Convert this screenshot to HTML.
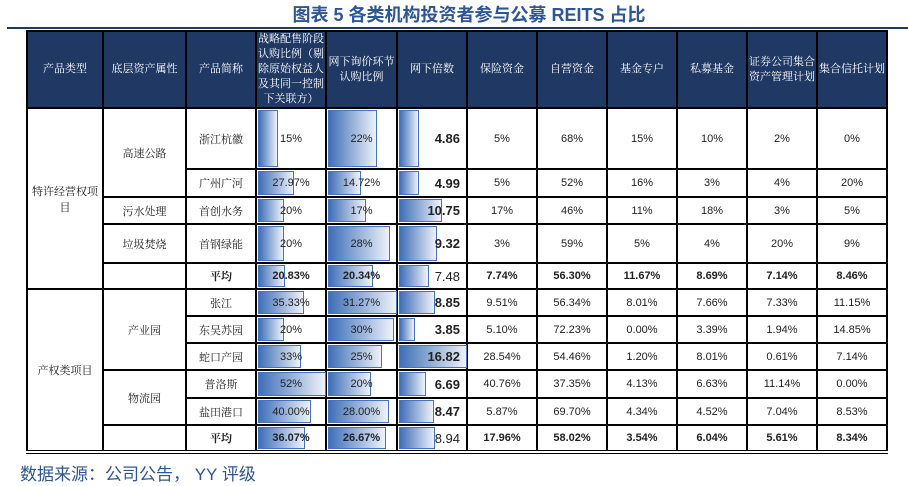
<!DOCTYPE html>
<html><head><meta charset="utf-8"><style>
body{margin:0;width:908px;height:486px;background:#fff;position:relative;overflow:hidden;font-family:"Liberation Sans","Noto Sans CJK SC",sans-serif}
.title{position:absolute;left:0;width:908px;top:1px;text-align:center;padding-left:30px;box-sizing:border-box;font-weight:bold;font-size:18px;color:#2e5597}
.rule{position:absolute;left:7px;right:0;top:27px;height:2px;background:#1f3864}
table{position:absolute;left:26px;top:30px;border-collapse:collapse;table-layout:fixed;font-size:11px}
td{border:2px solid #000;text-align:center;padding:0;position:relative;color:#222;font-family:"Liberation Sans","Noto Serif CJK SC",serif}
tr.h td{background:#1f3864;color:#fff;border-color:#000;line-height:15px;font-size:11px}
.b{position:absolute;left:1px;top:1px;bottom:1px;background:linear-gradient(90deg,#3f6fb8,#eef2fa);border:1px solid #4472c4;box-sizing:border-box}
.t{position:relative}
.r{text-align:right;padding-right:6px;font-weight:bold;font-size:13px}
.bold{font-weight:bold}
.src{position:absolute;left:20px;top:460px;font-size:17px;color:#2e5597;font-family:"Liberation Sans","Noto Sans CJK SC",sans-serif}
</style></head><body>
<div class="title">图表 5 各类机构投资者参与公募 REITS 占比</div>
<div class="rule"></div>
<table>
<colgroup><col style="width:76px"><col style="width:83px"><col style="width:70px"><col style="width:70px"><col style="width:71px"><col style="width:70px"><col style="width:70px"><col style="width:70px"><col style="width:70px"><col style="width:70px"><col style="width:70px"><col style="width:70px"></colgroup>
<tr class="h" style="height:71px"><td>产品类型</td><td>底层资产属性</td><td>产品简称</td><td>战略配售阶段认购比例（剔除原始权益人及其同一控制下关联方）</td><td>网下询价环节认购比例</td><td>网下倍数</td><td>保险资金</td><td>自营资金</td><td>基金专户</td><td>私募基金</td><td>证券公司集合资产管理计划</td><td>集合信托计划</td></tr>
<tr style="height:61px"><td rowspan="5">特许经营权项目</td><td rowspan="2">高速公路</td><td>浙江杭徽</td><td><div class="b" style="width:20px"></div><span class="t">15%</span></td><td><div class="b" style="width:49px"></div><span class="t">22%</span></td><td class="r"><div class="b" style="width:20px"></div><span class="t">4.86</span></td><td>5%</td><td>68%</td><td>15%</td><td>10%</td><td>2%</td><td>0%</td></tr>
<tr style="height:28px"><td>广州广河</td><td><div class="b" style="width:36px"></div><span class="t">27.97%</span></td><td><div class="b" style="width:33px"></div><span class="t">14.72%</span></td><td class="r"><div class="b" style="width:20px"></div><span class="t">4.99</span></td><td>5%</td><td>52%</td><td>16%</td><td>3%</td><td>4%</td><td>20%</td></tr>
<tr style="height:27px"><td>污水处理</td><td>首创水务</td><td><div class="b" style="width:26px"></div><span class="t">20%</span></td><td><div class="b" style="width:38px"></div><span class="t">17%</span></td><td class="r"><div class="b" style="width:43px"></div><span class="t">10.75</span></td><td>17%</td><td>46%</td><td>11%</td><td>18%</td><td>3%</td><td>5%</td></tr>
<tr style="height:39px"><td>垃圾焚烧</td><td>首钢绿能</td><td><div class="b" style="width:26px"></div><span class="t">20%</span></td><td><div class="b" style="width:62px"></div><span class="t">28%</span></td><td class="r"><div class="b" style="width:38px"></div><span class="t">9.32</span></td><td>3%</td><td>59%</td><td>5%</td><td>4%</td><td>20%</td><td>9%</td></tr>
<tr style="height:26px" class="bold"><td></td><td>平均</td><td><div class="b" style="width:27px"></div><span class="t">20.83%</span></td><td><div class="b" style="width:45px"></div><span class="t">20.34%</span></td><td class="r" style="font-weight:normal"><div class="b" style="width:30px"></div><span class="t">7.48</span></td><td>7.74%</td><td>56.30%</td><td>11.67%</td><td>8.69%</td><td>7.14%</td><td>8.46%</td></tr>
<tr style="height:27px"><td rowspan="6">产权类项目</td><td rowspan="3">产业园</td><td>张江</td><td><div class="b" style="width:46px"></div><span class="t">35.33%</span></td><td><div class="b" style="width:69px"></div><span class="t">31.27%</span></td><td class="r"><div class="b" style="width:36px"></div><span class="t">8.85</span></td><td>9.51%</td><td>56.34%</td><td>8.01%</td><td>7.66%</td><td>7.33%</td><td>11.15%</td></tr>
<tr style="height:27px"><td>东吴苏园</td><td><div class="b" style="width:26px"></div><span class="t">20%</span></td><td><div class="b" style="width:66px"></div><span class="t">30%</span></td><td class="r"><div class="b" style="width:16px"></div><span class="t">3.85</span></td><td>5.10%</td><td>72.23%</td><td>0.00%</td><td>3.39%</td><td>1.94%</td><td>14.85%</td></tr>
<tr style="height:27px"><td>蛇口产园</td><td><div class="b" style="width:43px"></div><span class="t">33%</span></td><td><div class="b" style="width:54px"></div><span class="t">25%</span></td><td class="r"><div class="b" style="width:68px"></div><span class="t">16.82</span></td><td>28.54%</td><td>54.46%</td><td>1.20%</td><td>8.01%</td><td>0.61%</td><td>7.14%</td></tr>
<tr style="height:28px"><td rowspan="2">物流园</td><td>普洛斯</td><td><div class="b" style="width:68px"></div><span class="t">52%</span></td><td><div class="b" style="width:43px"></div><span class="t">20%</span></td><td class="r"><div class="b" style="width:27px"></div><span class="t">6.69</span></td><td>40.76%</td><td>37.35%</td><td>4.13%</td><td>6.63%</td><td>11.14%</td><td>0.00%</td></tr>
<tr style="height:27px"><td>盐田港口</td><td><div class="b" style="width:53px"></div><span class="t">40.00%</span></td><td><div class="b" style="width:61px"></div><span class="t">28.00%</span></td><td class="r"><div class="b" style="width:35px"></div><span class="t">8.47</span></td><td>5.87%</td><td>69.70%</td><td>4.34%</td><td>4.52%</td><td>7.04%</td><td>8.53%</td></tr>
<tr style="height:27px;border-bottom:4px double #000" class="bold"><td></td><td>平均</td><td><div class="b" style="width:47px"></div><span class="t">36.07%</span></td><td><div class="b" style="width:58px"></div><span class="t">26.67%</span></td><td class="r" style="font-weight:normal"><div class="b" style="width:36px"></div><span class="t">8.94</span></td><td>17.96%</td><td>58.02%</td><td>3.54%</td><td>6.04%</td><td>5.61%</td><td>8.34%</td></tr>
</table>
<div class="src">数据来源：公司公告， YY 评级</div>
</body></html>
